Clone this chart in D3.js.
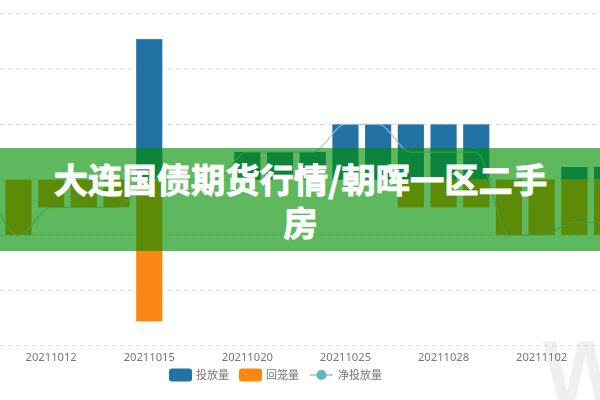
<!DOCTYPE html>
<html>
<head>
<meta charset="utf-8">
<script src="https://cdn.jsdelivr.net/npm/d3@7/dist/d3.min.js"></script>
<style>
html, body { margin: 0; padding: 0; background: #fff; overflow: hidden; }
</style>
</head>
<body>
<svg width="600" height="400"></svg>
<script>
// dates, the first one sits just off the left edge
const dates = ['20211008', '20211011', '20211012', '20211013', '20211014', '20211015', '20211018', '20211019', '20211020', '20211021',
    '20211022', '20211025', '20211026', '20211027', '20211028', '20211029', '20211101', '20211102', '20211103', '20211104'];
const tickDates = ['20211012', '20211015', '20211020', '20211025', '20211028', '20211102'];

const touFang = [0, 0, 0, 0, 0, 254, 0, 0, 50, 50, 50, 100, 100, 100, 100, 100, 0, 0, 23, 23];
const huiLong = [0, 100, 50, 50, 50, 256, 0, 0, 0, 0, 0, 0, 0, 50, 50, 50, 100, 100, 100, 100];
const jingTouFang = [0, -100, -50, -50, -50, -2, 0, 0, 50, 50, 50, 100, 100, 50, 50, 50, -100, -100, -77, -77];

const gridValues = [-300, -200, -100, 0, 100, 200, 300];
const legendNames = ['投放量', '回笼量', '净投放量'];
const titleLines = ['大连国债期货行情/朝晖一区二手', '房'];

const svg = d3.select('svg');
const chart = svg.append('g').style('filter', 'blur(0.55px)');

const x = d3.scaleBand()
    .domain(dates)
    .range([-30.6, 623.4])
    .paddingInner(0.2)
    .paddingOuter(0.1);

const y = d3.scaleLinear()
    .domain([-300, 300])
    .range([345.7, 13.7]);

// faint watermark, under the labels
chart.append('text')
    .attr('x', 543)
    .attr('y', 404)
    .attr('fill', '#efefef')
    .style('font-family', '"Liberation Sans"')
    .style('font-weight', 'bold')
    .style('font-size', '90px')
    .text('W');

// grid
chart.append('g')
    .selectAll('line')
    .data(gridValues)
    .join('line')
    .attr('x1', 0)
    .attr('x2', 600)
    .attr('y1', d => y(d))
    .attr('y2', d => y(d))
    .attr('stroke', '#d8d8d8')
    .attr('stroke-width', 1)
    .attr('stroke-dasharray', '4,4');

// x axis labels
const axis = chart.append('g')
    .attr('transform', 'translate(0,' + 352 + ')')
    .call(d3.axisBottom(x).tickValues(tickDates).tickSize(0).tickPadding(1));
axis.select('.domain').remove();
axis.selectAll('text')
    .attr('fill', '#777')
    .style('font-family', '"Noto Sans"')
    .style('font-size', '11.2px');

// bars
chart.append('g')
    .selectAll('rect')
    .data(dates)
    .join('rect')
    .attr('x', d => x(d))
    .attr('width', x.bandwidth())
    .attr('y', (d, i) => y(touFang[i]))
    .attr('height', (d, i) => y(0) - y(touFang[i]))
    .attr('fill', '#2272a3');

chart.append('g')
    .selectAll('rect')
    .data(dates)
    .join('rect')
    .attr('x', d => x(d))
    .attr('width', x.bandwidth())
    .attr('y', y(0))
    .attr('height', (d, i) => y(-huiLong[i]) - y(0))
    .attr('fill', '#fa8714');

// net line
const line = d3.line()
    .x(d => x(d) + x.bandwidth() / 2)
    .y((d, i) => y(jingTouFang[i]))
    .curve(d3.curveMonotoneX);

chart.append('path')
    .attr('d', line(dates))
    .attr('fill', 'none')
    .attr('stroke', '#9cc0c8')
    .attr('stroke-opacity', 0.8)
    .attr('stroke-width', 1.3);

// legend
const legendX = [169, 239, 310];
const legend = chart.append('g')
    .selectAll('g')
    .data(legendNames)
    .join('g')
    .attr('transform', (d, i) => 'translate(' + legendX[i] + ',375)');

legend.filter((d, i) => i < 2)
    .append('rect')
    .attr('y', -6.5)
    .attr('width', 23)
    .attr('height', 13)
    .attr('rx', 3)
    .attr('fill', (d, i) => i === 0 ? '#2272a3' : '#fa8714');

legend.filter((d, i) => i === 2)
    .append('line')
    .attr('x2', 23)
    .attr('stroke', '#8fc9cc')
    .attr('stroke-width', 1.5);

legend.filter((d, i) => i === 2)
    .append('circle')
    .attr('cx', 11.5)
    .attr('r', 5)
    .attr('fill', '#5fb8b8');

legend.append('text')
    .attr('x', (d, i) => i === 2 ? 28 : 27)
    .attr('y', 4)
    .attr('fill', '#777')
    .style('font-family', '"Noto Sans CJK SC"')
    .style('font-size', '11px')
    .text(d => d);

// title band on top of everything
svg.append('rect')
    .attr('x', 0)
    .attr('y', 148)
    .attr('width', 600)
    .attr('height', 103)
    .attr('fill', 'rgba(0,143,0,0.63)');

svg.append('g')
    .selectAll('text')
    .data(titleLines)
    .join('text')
    .attr('x', 300.5)
    .attr('y', (d, i) => 193 + i * 43)
    .attr('text-anchor', 'middle')
    .attr('fill', '#fff')
    .attr('stroke', '#fff')
    .attr('stroke-width', 0.9)
    .style('font-family', '"Noto Sans CJK SC"')
    .style('font-weight', 'bold')
    .style('font-size', '34.3px')
    .text(d => d);
</script>
</body>
</html>
